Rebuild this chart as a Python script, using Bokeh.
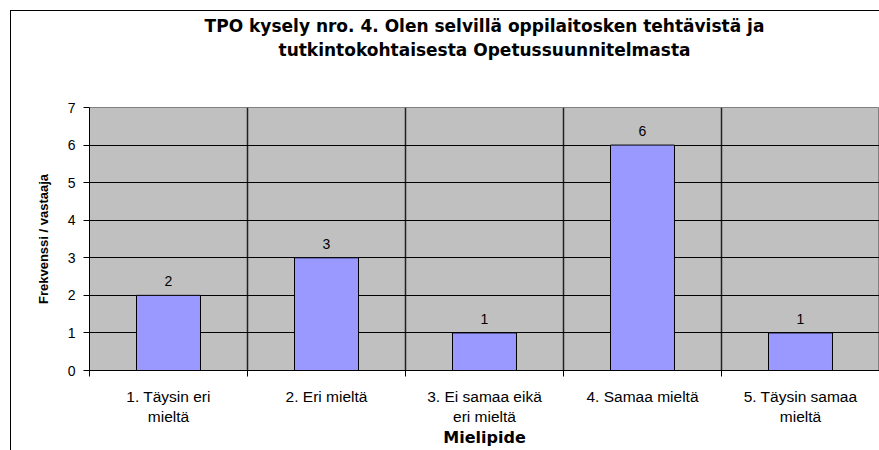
from bokeh.plotting import figure
from bokeh.models import ColumnDataSource, FixedTicker, LinearAxis
from bokeh.core.properties import value
from bokeh.embed import file_html
from bokeh.resources import INLINE

# Survey answers
categories = ["1. Täysin eri\nmieltä", "2. Eri mieltä", "3. Ei samaa eikä\neri mieltä",
              "4. Samaa mieltä", "5. Täysin samaa\nmieltä"]
counts = [2, 3, 1, 6, 1]
y_ticks = [0, 1, 2, 3, 4, 5, 6, 7]
title_lines = ["TPO kysely nro. 4. Olen selvillä oppilaitosken tehtävistä ja",
               "tutkintokohtaisesta Opetussuunnitelmasta"]
x_title = "Mielipide"
y_title = "Frekvenssi / vastaaja"

FONT = "Liberation Sans"
HEAD_FONT = "DejaVu Sans"

n = len(categories)
centers = [i + 0.5 for i in range(n)]
bounds = list(range(n + 1))

src = ColumnDataSource(dict(x=centers, top=counts, label=[str(c) for c in counts]))

# canvas sits 11px in from the top-left corner; its outline forms the chart box
p = figure(width=868, height=439, x_range=(0, n), y_range=(0, max(y_ticks)),
           output_backend="svg", toolbar_location=None,
           min_border_left=78, min_border_right=0, min_border_top=96, min_border_bottom=80)
p.margin = (11, 0, 0, 11)
p.styles = {"outline": "1.5px solid black"}
p.background_fill_color = "#C0C0C0"
p.border_fill_color = "white"
p.outline_line_color = "#808080"

# heading: each line is the label of a bare axis stacked above the frame
for line, standoff in zip(reversed(title_lines), [48, 1]):
    head = LinearAxis(ticker=FixedTicker(ticks=[]), axis_label=line,
                      axis_label_standoff=standoff,
                      axis_label_text_font=HEAD_FONT, axis_label_text_font_size="17px",
                      axis_label_text_font_style="bold", axis_label_text_color="black",
                      axis_line_color=None, major_tick_out=0, major_tick_in=0,
                      minor_tick_out=0, minor_tick_in=0)
    p.add_layout(head, "above")

# bars and value labels
p.vbar(x="x", top="top", bottom=0, width=0.405, source=src,
       fill_color="#9999FF", line_color="black", line_width=1)
p.text(x="x", y="top", text="label", source=src, y_offset=-9,
       text_align="center", text_baseline="bottom",
       text_font=value(FONT), text_font_size="14px", text_color="black")

# grid
p.ygrid.ticker = FixedTicker(ticks=y_ticks)
p.ygrid.grid_line_color = "black"
p.ygrid.grid_line_width = 1
p.xgrid.ticker = FixedTicker(ticks=bounds)
p.xgrid.grid_line_color = "#222222"
p.xgrid.grid_line_width = 1.5

# x axis: labels at centres, tick marks at category boundaries
xa = p.below[0]
xa.ticker = FixedTicker(ticks=centers, minor_ticks=bounds)
xa.major_label_overrides = {c: lab for c, lab in zip(centers, categories)}
xa.major_tick_out = 0
xa.major_tick_in = 0
xa.minor_tick_out = 6
xa.minor_tick_in = 0
xa.major_label_standoff = 11
xa.major_label_text_align = "center"
xa.major_label_text_font = FONT
xa.major_label_text_font_size = "15.5px"
xa.major_label_text_color = "black"
xa.axis_label = x_title
xa.axis_label_text_font = HEAD_FONT
xa.axis_label_text_font_size = "16px"
xa.axis_label_text_font_style = "bold"
xa.axis_label_text_color = "black"
xa.axis_label_standoff = 0
xa.axis_line_color = "black"

# y axis
p.yaxis.ticker = FixedTicker(ticks=y_ticks)
p.yaxis.major_tick_out = 6
p.yaxis.major_tick_in = 0
p.yaxis.minor_tick_out = 0
p.yaxis.minor_tick_in = 0
p.yaxis.major_label_standoff = 8
p.yaxis.major_label_text_font = FONT
p.yaxis.major_label_text_font_size = "14px"
p.yaxis.major_label_text_color = "black"
p.yaxis.axis_label = y_title
p.yaxis.axis_label_text_font = FONT
p.yaxis.axis_label_text_font_size = "13px"
p.yaxis.axis_label_text_font_style = "bold"
p.yaxis.axis_label_text_color = "black"
p.yaxis.axis_label_standoff = 14
p.yaxis.axis_line_color = "black"

open("out.html", "w").write(file_html(p, INLINE))
